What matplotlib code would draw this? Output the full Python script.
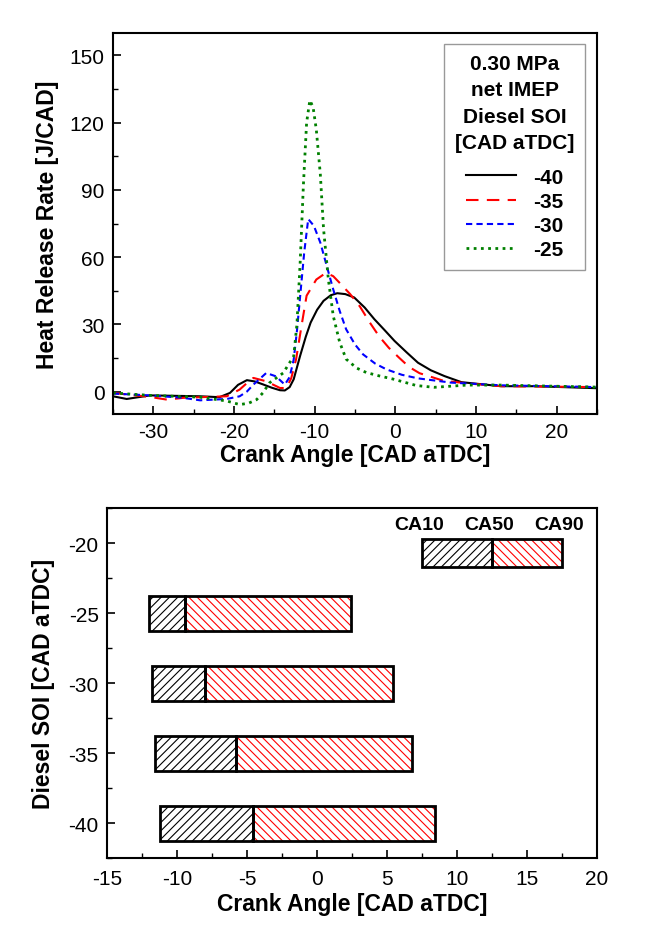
import numpy as np
import matplotlib.pyplot as plt
from matplotlib.ticker import MultipleLocator

plt.rcParams['font.family'] = ['Liberation Sans', 'DejaVu Sans']
plt.rcParams['hatch.linewidth'] = 0.8
plt.rcParams['axes.unicode_minus'] = False

# heat release rate traces
x40 = [-35, -33.3, -30.4, -24.2, -21.8, -20.5, -19.5, -18.4, -17.4, -16.4, -15.3, -14.3, -13.7, -13.1, -12.6, -11.8,
       -11.1, -10.5, -9.7, -8.9, -8.0, -7.2, -6.2, -5.1, -3.8, -2.6, -1.3, -0.1, 1.4, 2.8, 4.4, 6.1, 8.2, 9.8, 13.1, 17.3, 25]
y40 = [-2.1, -3.3, -1.7, -2.1, -2.5, -0.6, 3.0, 5.1, 4.5, 3.2, 1.7, 0.6, 0.5, 2.0, 5.5, 16,
       24.5, 30.8, 36.5, 40.5, 43.0, 43.9, 43.5, 42, 37.5, 32.3, 27.3, 22.6, 17.5, 12.9, 9.5, 6.9, 4.2, 3.6, 2.4, 2.4, 1.5]
x35 = [-35, -30.4, -28.3, -26.3, -24.2, -20.9, -19.3, -18.4, -17.6, -16.0, -14.3, -13.5, -12.9, -12.3, -11.6, -11.0,
       -9.8, -8.6, -7.7, -6.9, -5.6, -4.4, -3.2, -2.0, -0.8, 0.5, 1.7, 3.0, 5.9, 8.8, 13.1, 25]
y35 = [-0.6, -2.4, -3.6, -2.8, -2.5, -2.1, 0.9, 3.8, 6.1, 4.6, 1.6, 1.6, 6.0, 14.5, 30, 42.8,
       50, 53, 51.5, 48.5, 43.5, 38, 31.0, 24.6, 19.5, 15, 11.0, 8.2, 4.9, 3.7, 2.4, 2.0]
x30 = [-35, -30.4, -26.3, -24.2, -20.9, -19.3, -18.4, -17.6, -16.0, -14.8, -13.7, -13.1, -12.6, -12.2, -11.8, -11.3,
       -10.8, -10.1, -9.3, -8.5, -7.7, -6.9, -6.1, -5.0, -4.0, -2.5, -1.1, 0.8, 2.8, 6.9, 13.1, 25]
y30 = [-0.9, -1.7, -2.8, -3.9, -3.3, -2.1, 0.0, 3.1, 8.3, 6.8, 3.1, 6.5, 14.3, 27, 42.6, 62,
       77, 74, 66.5, 56, 45.6, 36, 27.8, 21, 16.6, 12.5, 9.9, 7.5, 5.9, 4.0, 2.8, 2.0]
x25 = [-35, -30.4, -24.2, -20.9, -19.3, -18.2, -17.2, -16.4, -15.6, -13.9, -12.6, -12.2, -11.8, -11.4, -11.0, -10.6,
       -10.2, -9.8, -9.3, -8.9, -8.3, -7.7, -6.9, -6.1, -4.8, -3.6, -2.0, -0.3, 2.6, 4.8, 8.9, 13.1, 25]
y25 = [-0.6, -1.7, -2.5, -4.2, -5.8, -5.2, -3.6, -0.5, 3.9, 8.3, 15.8, 30, 57.5, 92, 120, 130,
       127, 117, 97, 72.6, 50, 33.8, 22, 14.5, 10.5, 8.5, 7.0, 5.6, 2.7, 1.9, 2.9, 2.9, 2.0]

# combustion phasing per SOI
soi = [-25, -30, -35, -40]
ca10 = [-12.0, -11.8, -11.6, -11.2]
ca50 = [-9.4, -8.0, -5.8, -4.6]
ca90 = [2.4, 5.4, 6.8, 8.4]
# key bar in the top right corner
key_ca = [7.5, 12.5, 17.5]
key_names = ['CA10', 'CA50', 'CA90']
key_y = -20.7

fig = plt.figure(figsize=(6.55, 9.29), dpi=100)
ax1 = fig.add_axes([0.1725, 0.5533, 0.739, 0.410])
ax2 = fig.add_axes([0.1634, 0.0753, 0.748, 0.3767])

ax1.plot(x40, y40, color='black', lw=1.5, label='-40')
ax1.plot(x35, y35, color='red', lw=1.5, dashes=(6, 4), label='-35')
ax1.plot(x30, y30, color='blue', lw=1.5, dashes=(3, 2), label='-30')
ax1.plot(x25, y25, color='green', lw=2, dashes=(1, 1.6), label='-25')
ax1.set_xlim(-35, 25)
ax1.set_ylim(-10, 160)
ax1.xaxis.set_major_locator(MultipleLocator(10))
ax1.xaxis.set_minor_locator(MultipleLocator(5))
ax1.yaxis.set_major_locator(MultipleLocator(30))
ax1.yaxis.set_minor_locator(MultipleLocator(15))
ax1.set_xlabel('Crank Angle [CAD aTDC]', fontsize=16.5, fontweight='bold', labelpad=1)
ax1.set_ylabel('Heat Release Rate [J/CAD]', fontsize=16.5, fontweight='bold', labelpad=8)
leg = ax1.legend(title='0.30 MPa\nnet IMEP\nDiesel SOI\n[CAD aTDC]', loc='upper right',
                 bbox_to_anchor=(0.996, 1.0), fancybox=False, edgecolor='gray',
                 handlelength=2.4, handletextpad=0.8, fontsize=15, title_fontsize=15,
                 labelspacing=0.25, borderpad=0.5)
leg.get_frame().set_linewidth(1.0)
for t in leg.get_texts():
    t.set_fontweight('bold')
leg.get_title().set_fontweight('bold')
leg.get_title().set_multialignment('center')
leg.get_title().set_linespacing(1.5)
leg._legend_box.sep = 11

w1 = np.subtract(ca50, ca10)
w2 = np.subtract(ca90, ca50)
ax2.barh(soi, w1, left=ca10, height=2.5, color='white', edgecolor='black', hatch='////', lw=0)
ax2.barh(soi, w2, left=ca50, height=2.5, color='white', edgecolor='red', hatch='\\\\\\\\', lw=0)
ax2.barh(soi, w1, left=ca10, height=2.5, fill=False, edgecolor='black', lw=2)
ax2.barh(soi, w2, left=ca50, height=2.5, fill=False, edgecolor='black', lw=2)

kw1 = key_ca[1] - key_ca[0]
kw2 = key_ca[2] - key_ca[1]
ax2.barh(key_y, kw1, left=key_ca[0], height=2.0, color='white', edgecolor='black', hatch='////', lw=0)
ax2.barh(key_y, kw2, left=key_ca[1], height=2.0, color='white', edgecolor='red', hatch='\\\\\\\\', lw=0)
ax2.barh(key_y, kw1, left=key_ca[0], height=2.0, fill=False, edgecolor='black', lw=2)
ax2.barh(key_y, kw2, left=key_ca[1], height=2.0, fill=False, edgecolor='black', lw=2)
for xv, txt in zip(key_ca, key_names):
    ax2.text(xv - 0.2, -18.7, txt, ha='center', va='center', fontsize=14, fontweight='bold')

ax2.set_xlim(-15, 20)
ax2.set_ylim(-42.5, -17.5)
ax2.xaxis.set_major_locator(MultipleLocator(5))
ax2.xaxis.set_minor_locator(MultipleLocator(2.5))
ax2.yaxis.set_major_locator(MultipleLocator(5))
ax2.yaxis.set_minor_locator(MultipleLocator(2.5))
ax2.set_xlabel('Crank Angle [CAD aTDC]', fontsize=16.5, fontweight='bold', labelpad=3)
ax2.set_ylabel('Diesel SOI [CAD aTDC]', fontsize=16.5, fontweight='bold', labelpad=10)

for ax in (ax1, ax2):
    ax.tick_params(which='both', direction='in', top=False, right=False, labelsize=15, pad=6)
    ax.tick_params(which='major', length=6, width=1.2)
    ax.tick_params(which='minor', length=3.5, width=1.0)
    for s in ax.spines.values():
        s.set_linewidth(1.5)
ax2.tick_params(axis='x', pad=8)

fig.savefig('out.png', dpi=100)
